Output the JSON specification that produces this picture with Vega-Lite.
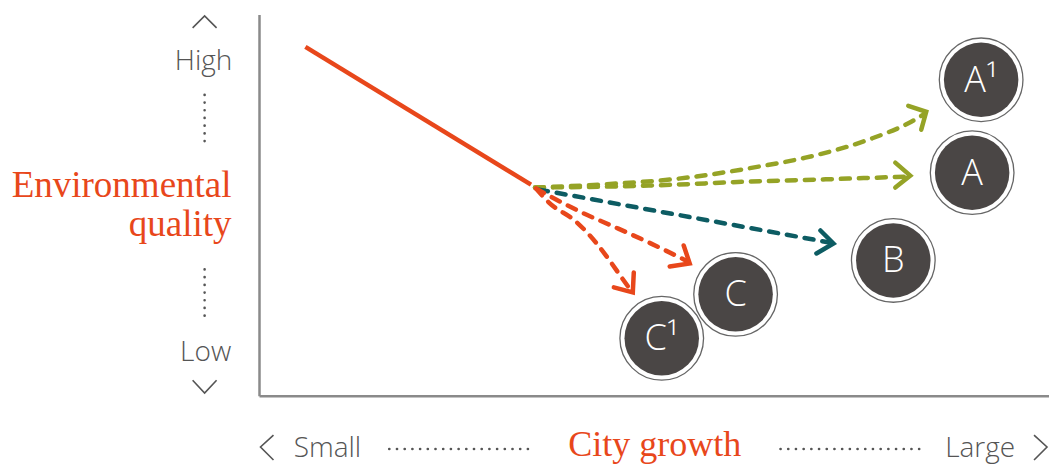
{
  "$schema": "https://vega.github.io/schema/vega-lite/v6.json",
  "width": 1051,
  "height": 464,
  "autosize": {"type": "fit", "contains": "padding"},
  "padding": 0,
  "background": "white",
  "config": {"view": {"stroke": null}},
  "datasets": {
    "paths": [
      {"s": "past", "i": 0, "x": 306, "y": 47},
      {"s": "past", "i": 1, "x": 532, "y": 185},
      {"s": "A1", "i": 0, "x": 536, "y": 188},
      {"s": "A1", "i": 1, "x": 600, "y": 185},
      {"s": "A1", "i": 2, "x": 680, "y": 179},
      {"s": "A1", "i": 3, "x": 760, "y": 167},
      {"s": "A1", "i": 4, "x": 807, "y": 158},
      {"s": "A1", "i": 5, "x": 870, "y": 140},
      {"s": "A1", "i": 6, "x": 913, "y": 122},
      {"s": "A1", "i": 7, "x": 925, "y": 115},
      {"s": "A", "i": 0, "x": 536, "y": 188},
      {"s": "A", "i": 1, "x": 650, "y": 186},
      {"s": "A", "i": 2, "x": 750, "y": 182},
      {"s": "A", "i": 3, "x": 850, "y": 179},
      {"s": "A", "i": 4, "x": 908, "y": 177},
      {"s": "B", "i": 0, "x": 540, "y": 190},
      {"s": "B", "i": 1, "x": 831, "y": 243},
      {"s": "C", "i": 0, "x": 537, "y": 189},
      {"s": "C", "i": 1, "x": 583, "y": 213},
      {"s": "C", "i": 2, "x": 617, "y": 228},
      {"s": "C", "i": 3, "x": 650, "y": 243},
      {"s": "C", "i": 4, "x": 687, "y": 261},
      {"s": "C1", "i": 0, "x": 537, "y": 189},
      {"s": "C1", "i": 1, "x": 550, "y": 203},
      {"s": "C1", "i": 2, "x": 577, "y": 222},
      {"s": "C1", "i": 3, "x": 597, "y": 243},
      {"s": "C1", "i": 4, "x": 610, "y": 260},
      {"s": "C1", "i": 5, "x": 622, "y": 277},
      {"s": "C1", "i": 6, "x": 632, "y": 291}
    ],
    "heads": [
      {"s": "A1", "i": 0, "x": 910, "y": 106},
      {"s": "A1", "i": 1, "x": 928, "y": 112},
      {"s": "A1", "i": 2, "x": 923, "y": 130},
      {"s": "A", "i": 0, "x": 897, "y": 163},
      {"s": "A", "i": 1, "x": 912, "y": 176},
      {"s": "A", "i": 2, "x": 897, "y": 188},
      {"s": "B", "i": 0, "x": 822, "y": 231},
      {"s": "B", "i": 1, "x": 835, "y": 244},
      {"s": "B", "i": 2, "x": 818, "y": 254},
      {"s": "C", "i": 0, "x": 685, "y": 246},
      {"s": "C", "i": 1, "x": 691, "y": 264},
      {"s": "C", "i": 2, "x": 671, "y": 267},
      {"s": "C1", "i": 0, "x": 635, "y": 273},
      {"s": "C1", "i": 1, "x": 634, "y": 293},
      {"s": "C1", "i": 2, "x": 615, "y": 288}
    ],
    "circles": [
      {"t": "A¹", "x": 983, "y": 80},
      {"t": "A", "x": 974, "y": 173},
      {"t": "B", "x": 895, "y": 261},
      {"t": "C", "x": 737, "y": 295},
      {"t": "C¹", "x": 663, "y": 339}
    ],
    "axes": [
      {"x": 260, "y": 15, "x2": 260, "y2": 397},
      {"x": 260, "y": 397, "x2": 1051, "y2": 397}
    ],
    "dots": [
      {"x": 205, "y": 95, "x2": 205, "y2": 145},
      {"x": 205, "y": 270, "x2": 205, "y2": 320},
      {"x": 390, "y": 450, "x2": 530, "y2": 450},
      {"x": 782, "y": 450, "x2": 925, "y2": 450}
    ],
    "chev": [
      {"g": "up", "i": 0, "x": 193, "y": 28},
      {"g": "up", "i": 1, "x": 205, "y": 16},
      {"g": "up", "i": 2, "x": 217, "y": 28},
      {"g": "down", "i": 0, "x": 193, "y": 381},
      {"g": "down", "i": 1, "x": 205, "y": 394},
      {"g": "down", "i": 2, "x": 217, "y": 381},
      {"g": "left", "i": 0, "x": 274, "y": 436},
      {"g": "left", "i": 1, "x": 261, "y": 448},
      {"g": "left", "i": 2, "x": 274, "y": 461},
      {"g": "right", "i": 0, "x": 1036, "y": 436},
      {"g": "right", "i": 1, "x": 1049, "y": 448},
      {"g": "right", "i": 2, "x": 1036, "y": 461}
    ],
    "grayText": [
      {"t": "High", "x": 204, "y": 70},
      {"t": "Low", "x": 206, "y": 362},
      {"t": "Small", "x": 328, "y": 458},
      {"t": "Large", "x": 982, "y": 458}
    ],
    "orangeRight": [
      {"t": "Environmental", "x": 232, "y": 197},
      {"t": "quality", "x": 232, "y": 237}
    ],
    "orangeCenter": [
      {"t": "City growth", "x": 656, "y": 457}
    ]
  },
  "encoding": {
    "x": {"field": "x", "type": "quantitative", "scale": {"domain": [0, 1051], "nice": false, "zero": false}, "axis": null},
    "y": {"field": "y", "type": "quantitative", "scale": {"domain": [0, 464], "reverse": true, "nice": false, "zero": false}, "axis": null}
  },
  "layer": [
    {
      "data": {"name": "axes"},
      "mark": {"type": "rule", "color": "#8a8a8a", "strokeWidth": 2.5},
      "encoding": {"x2": {"field": "x2"}, "y2": {"field": "y2"}}
    },
    {
      "data": {"name": "dots"},
      "mark": {"type": "rule", "color": "#555555", "strokeWidth": 2.6, "strokeDash": [0.1, 7.6], "strokeCap": "round"},
      "encoding": {"x2": {"field": "x2"}, "y2": {"field": "y2"}}
    },
    {
      "data": {"name": "chev"},
      "mark": {"type": "line", "color": "#555555", "strokeWidth": 1.6, "strokeJoin": "miter"},
      "encoding": {"detail": {"field": "g"}, "order": {"field": "i"}}
    },
    {
      "data": {"name": "paths"},
      "transform": [{"filter": "datum.s === 'past'"}],
      "mark": {"type": "line", "strokeWidth": 4.5, "strokeCap": "butt"},
      "encoding": {
        "color": {"field": "s", "type": "nominal", "legend": null, "scale": {"domain": ["past", "A1", "A", "B", "C", "C1"], "range": ["#e8471b", "#95a326", "#95a326", "#0d5c63", "#e8471b", "#e8471b"]}},
        "order": {"field": "i"}
      }
    },
    {
      "data": {"name": "paths"},
      "transform": [{"filter": "datum.s !== 'past'"}],
      "mark": {"type": "line", "strokeWidth": 4.5, "strokeDash": [9, 9], "strokeCap": "round", "interpolate": "monotone"},
      "encoding": {
        "color": {"field": "s", "type": "nominal", "legend": null, "scale": {"domain": ["past", "A1", "A", "B", "C", "C1"], "range": ["#e8471b", "#95a326", "#95a326", "#0d5c63", "#e8471b", "#e8471b"]}},
        "order": {"field": "i"}
      }
    },
    {
      "data": {"name": "heads"},
      "mark": {"type": "line", "strokeWidth": 4.5, "strokeCap": "round", "strokeJoin": "miter"},
      "encoding": {
        "color": {"field": "s", "type": "nominal", "legend": null, "scale": {"domain": ["past", "A1", "A", "B", "C", "C1"], "range": ["#e8471b", "#95a326", "#95a326", "#0d5c63", "#e8471b", "#e8471b"]}},
        "order": {"field": "i"}
      }
    },
    {
      "data": {"name": "circles"},
      "mark": {"type": "point", "shape": "circle", "filled": true, "fill": "white", "stroke": "#666666", "strokeWidth": 1.3, "size": 7000, "opacity": 1}
    },
    {
      "data": {"name": "circles"},
      "mark": {"type": "point", "shape": "circle", "filled": true, "fill": "#4a4645", "strokeWidth": 0, "size": 5550, "opacity": 1}
    },
    {
      "data": {"name": "circles"},
      "mark": {"type": "text", "color": "white", "font": "Open Sans", "fontWeight": 300, "fontSize": 36, "align": "center", "baseline": "middle", "dy": 1},
      "encoding": {"text": {"field": "t"}}
    },
    {
      "data": {"name": "grayText"},
      "mark": {"type": "text", "color": "#555555", "font": "Open Sans", "fontWeight": 300, "fontSize": 28, "align": "center", "baseline": "alphabetic"},
      "encoding": {"text": {"field": "t"}}
    },
    {
      "data": {"name": "orangeRight"},
      "mark": {"type": "text", "color": "#e8471b", "font": "Liberation Serif", "fontSize": 37, "align": "right", "baseline": "alphabetic"},
      "encoding": {"text": {"field": "t"}}
    },
    {
      "data": {"name": "orangeCenter"},
      "mark": {"type": "text", "color": "#e8471b", "font": "Liberation Serif", "fontSize": 36, "align": "center", "baseline": "alphabetic"},
      "encoding": {"text": {"field": "t"}}
    }
  ]
}
